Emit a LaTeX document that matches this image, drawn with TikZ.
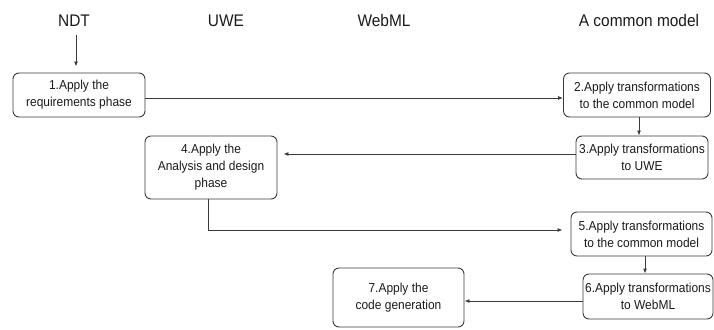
\documentclass[tikz,border=0pt]{standalone}
\usepackage{fontspec}
\setmainfont{Liberation Sans}[FakeStretch=0.92]
\usetikzlibrary{arrows.meta,calc}
\definecolor{lncol}{HTML}{3A3A3A}
\definecolor{txcol}{HTML}{1A1A1A}
\begin{document}
\begin{tikzpicture}[x=1pt,y=-1pt,
  box/.style={draw=lncol,line width=0.9pt,rounded corners=6pt,align=center,inner sep=0pt,
    font=\fontsize{13}{17}\selectfont,text=txcol},
  hdr/.style={font=\fontsize{16.8}{19}\selectfont,text=txcol,anchor=base},
  arr/.style={draw=lncol,line width=0.9pt,-{Latex[length=5pt,width=4pt]}}]
\useasboundingbox (0,0) rectangle (714,329);

% headers
\node[hdr] (hndt) at (74,27) {NDT};
\node[hdr] (huwe) at (226,27) {UWE};
\node[hdr] (hweb) at (384,27) {WebML};
\node[hdr] (hcom) at (639,27) {A common model};

% boxes
\node[box, minimum width=132pt, minimum height=44pt] (b1) at (79,95) {1.Apply the\\requirements phase};
\node[box, minimum width=147pt, minimum height=44pt] (b2) at (637,95) {2.Apply transformations\\to the common model};
\node[box, minimum width=132pt, minimum height=43pt] (b3) at (642,157.5) {3.Apply transformations\\to UWE};
\node[box, minimum width=132pt, minimum height=63pt] (b4) at (211,167.5) {4.Apply the\\Analysis and design\\phase};
\node[box, minimum width=141pt, minimum height=44pt] (b5) at (641.5,234) {5.Apply transformations\\to the common model};
\node[box, minimum width=130pt, minimum height=45pt] (b6) at (648,296.5) {6.Apply transformations\\to WebML};
\node[box, minimum width=131pt, minimum height=59pt] (b7) at (398.5,297.5) {7.Apply the\\code generation};

% connectors
\coordinate (s0) at (76,35);
\draw[arr, shorten >=6pt] (s0) -- (s0 |- b1.north);
\draw[arr] ($(b1.east)+(0,3)$) -- ($(b2.west)+(0,3)$);
\draw[arr] ($(b2.south)+(2,0)$) -- ($(b3.north)+(-3,0)$);
\draw[arr, shorten >=6pt] ($(b3.west)+(0,-3.5)$) -- ($(b4.east |- b3.west)+(0,-3.5)$);
\draw[arr, shorten >=8pt] ($(b4.south)+(-3,0)$) |- ($(b5.west)+(0,-4)$);
\draw[arr] ($(b5.south)+(3.5,0)$) -- ($(b6.north)+(-3,0)$);
\draw[arr] ($(b6.west)+(0,4.5)$) -- ($(b7.east |- b6.west)+(0,4.5)$);
\end{tikzpicture}
\end{document}
